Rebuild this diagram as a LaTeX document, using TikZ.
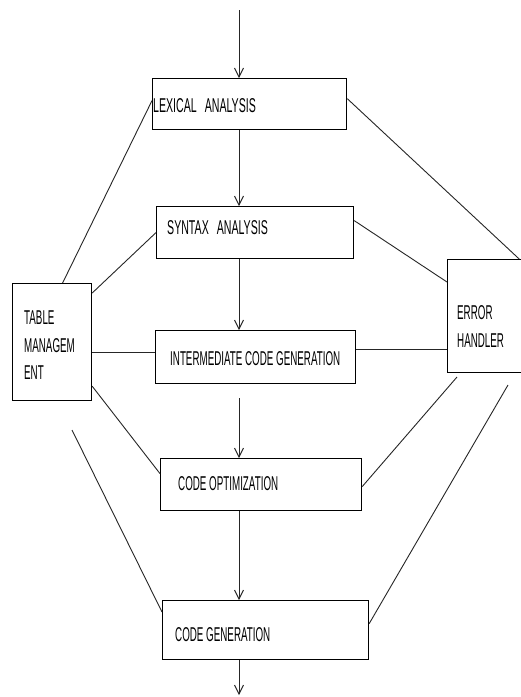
\documentclass[tikz,border=0pt]{standalone}
\usepackage{fontspec}
\setmainfont{Liberation Sans}[FakeStretch=0.49]
\newfontfamily\widefont{Liberation Sans}[FakeStretch=0.53]
\newcommand\phasefont{\fontsize{20pt}{27.5pt}\selectfont}
\usetikzlibrary{arrows.meta}

\begin{document}
\begin{tikzpicture}[x=1pt,y=-1pt,font=\phasefont,
    >={Straight Barb[length=9pt,width=9pt]},
    phase/.style 2 args={draw,line width=1.2pt,minimum width=#1,
      minimum height=#2,anchor=north west,inner sep=0pt},
    lab/.style={anchor=west,inner sep=0pt,align=left},
    link/.style={black!85,line width=.9pt}]
  \clip (0,0) rectangle (521,697);
  \fill[white] (0,0) rectangle (521,697);

  \coordinate (in) at (239,10);
  \coordinate (optin) at (239,398);
  \coordinate (out) at (239,695);
  \coordinate (lowl) at (72,430);
  \coordinate (lowr1) at (457,377);
  \coordinate (lowr2) at (508,385);

  % phases
  \node[phase={194pt}{51pt}] (lex) at (152,78) {};
  \node[phase={197pt}{52pt}] (syn) at (156,206) {};
  \node[phase={200pt}{53pt}] (icg) at (155,330) {};
  \node[phase={201pt}{52pt}] (opt) at (160,458) {};
  \node[phase={206pt}{59pt}] (gen) at (162,600) {};
  \node[phase={79pt}{117pt}] (tbl) at (12,283) {};
  \node[phase={78pt}{113pt}] (err) at (447,259) {};

  \node[lab,font=\widefont\phasefont] (lexlab) at (153,105.5)
    {LEXICAL\hspace{8pt}ANALYSIS};
  \node[lab,font=\widefont\phasefont] (synlab) at (167,228)
    {SYNTAX\hspace{8pt}ANALYSIS};
  \node[lab] (icglab) at (170,359) {INTERMEDIATE CODE GENERATION};
  \node[lab] (optlab) at (178,484) {CODE OPTIMIZATION};
  \node[lab] (genlab) at (175,635) {CODE GENERATION};
  \node[lab] (tbllab) at (24,345.5) {TABLE\\MANAGEM\\ENT};
  \node[lab] (errlab) at (457,326.5) {ERROR\\HANDLER};

  % main flow
  \draw[link,->] (in) -- (in |- lex.north);
  \draw[link,->] (in |- lex.south) -- (in |- syn.north);
  \draw[link,->] (in |- syn.south) -- (in |- icg.north);
  \draw[link,->] (optin) -- (in |- opt.north);
  \draw[link,->] (in |- opt.south) -- (in |- gen.north);
  \draw[link,->] (in |- gen.south) -- (out);

  % table management
  \draw[link] ([yshift=3.5pt]lex.west) -- ([xshift=10.5pt]tbl.north);
  \draw[link] ([yshift=-10pt]tbl.north east) -- (syn.west);
  \draw[link] ([yshift=-10.5pt]tbl.east) -- ([yshift=4.5pt]icg.west);
  \draw[link] ([yshift=15pt]tbl.south east) -- ([yshift=11pt]opt.west);
  \draw[link] (lowl) -- ([yshift=-12pt]gen.north west);

  % error handler
  \draw[link] ([yshift=5.5pt]lex.east) -- ([xshift=-7pt]err.north east);
  \draw[link] ([yshift=12pt]syn.east) -- ([yshift=-23pt]err.north west);
  \draw[link] ([yshift=7.5pt]icg.east) -- ([yshift=-33.5pt]err.west);
  \draw[link] (lowr1) -- ([yshift=-2pt]opt.east);
  \draw[link] (lowr2) -- ([yshift=6.5pt]gen.east);
\end{tikzpicture}
\end{document}
